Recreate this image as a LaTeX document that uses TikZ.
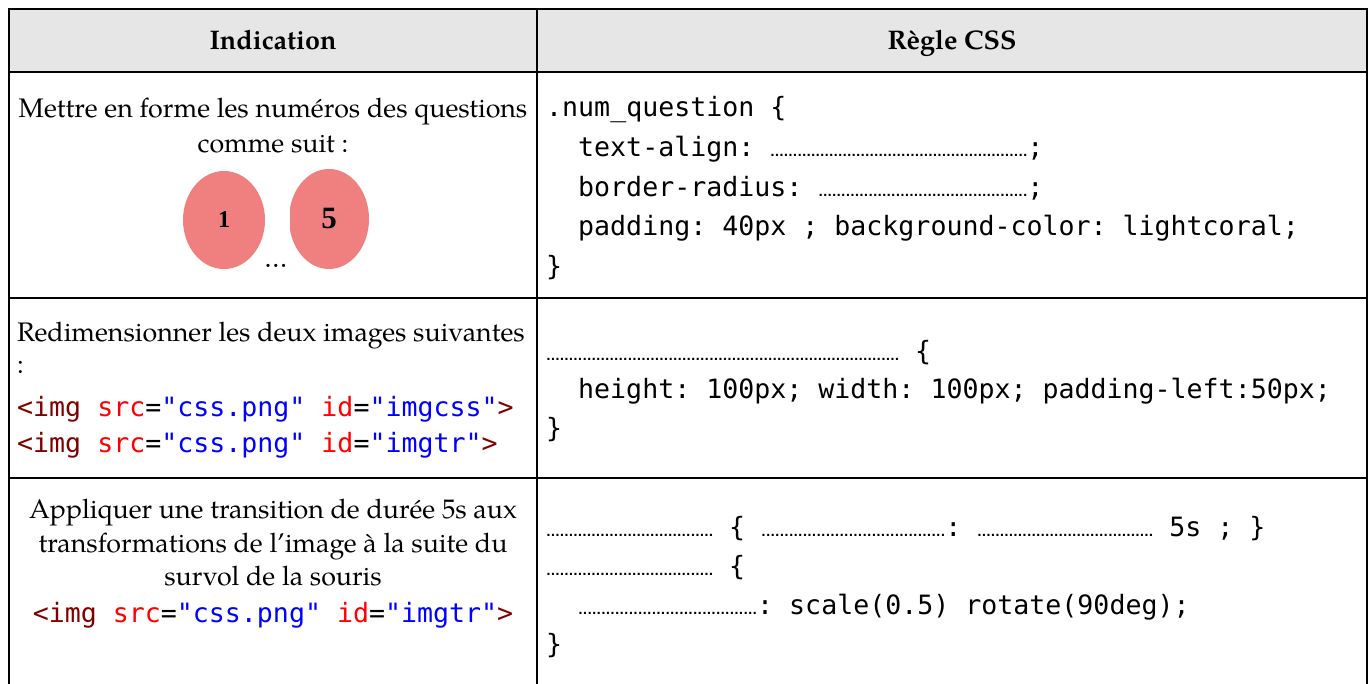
\documentclass[tikz,border=0pt]{standalone}
\usepackage{fontspec}
\setmainfont{TeX Gyre Pagella}
\setmonofont{DejaVu Sans Mono}
\newfontfamily\digitfont{Liberation Serif}
\newfontfamily\dotfont{DejaVu Sans}
\usetikzlibrary{shapes.geometric}
\definecolor{hgray}{RGB}{230,230,230}
\definecolor{lcoral}{RGB}{240,128,128}
\definecolor{dred}{RGB}{128,0,0}
\definecolor{cred}{RGB}{255,0,0}
\definecolor{cblue}{RGB}{0,0,255}
\newcommand\dotrun[1]{\hbox to #1{\xleaders\hbox to 4.5pt{\hss{\dotfont\bfseries\fontsize{11.5}{11.5}\selectfont.}\hss}\hfil}}
\newcommand\imgtag[1]{\textcolor{dred}{<img}~\textcolor{cred}{src}=\textcolor{cblue}{"css.png"}~\textcolor{cred}{id}=\textcolor{cblue}{"#1"}\textcolor{dred}{>}}
\tikzset{
  tline/.style={line width=2pt, black},
  serif/.style={inner sep=0pt, font=\fontsize{26.8}{30}\selectfont},
  head/.style={inner sep=0pt, font=\fontsize{26.9}{30}\selectfont\bfseries},
  code/.style={inner sep=0pt, font=\ttfamily\fontsize{26.6}{30}\selectfont},
  qbubble/.style={ellipse, fill=lcoral, inner sep=0pt, font=\digitfont\bfseries},
}
\begin{document}
\begin{tikzpicture}[x=1pt,y=-1pt]
\useasboundingbox (0,0) rectangle (1372,684);
% header background
\fill[hgray] (9,9) rectangle (1367,72);
% grid
\draw[tline] (9,684) -- (9,9) -- (1367,9) -- (1367,684);
\draw[tline] (9,72) -- (1367,72);
\draw[tline] (9,298) -- (1367,298);
\draw[tline] (9,478) -- (1367,478);
\draw[tline] (537,9) -- (537,684);
% header
\node[head, anchor=base] (h1) at (273,50) {Indication};
\node[head, anchor=base] (h2) at (952,50) {Règle CSS};
% row 1 left
\node[serif, anchor=base] (r1a) at (273,118) {Mettre en forme les numéros des questions};
\node[serif, anchor=base] (r1b) at (273,153) {comme suit :};
\node[qbubble, minimum width=82pt, minimum height=98pt, font=\digitfont\bfseries\fontsize{24}{24}\selectfont] (q1) at (224,220) {1};
\begin{scope}
  \clip (290,160) rectangle (380,280);
  \node[qbubble, minimum width=80pt, minimum height=100pt, font=\digitfont\bfseries\fontsize{31}{31}\selectfont] (q5) at (329,219) {5};
\end{scope}
\node[serif, anchor=base] (dots1) at (276,268) {…};
% row 1 right
\node[code, anchor=base west] (c11) at (546,117) {.num\_question~\{};
\node[code, anchor=base west] (c12) at (578,157) {text-align:~\dotrun{257pt};};
\node[code, anchor=base west] (c13) at (578,197) {border-radius:~\dotrun{209pt};};
\node[code, anchor=base west] (c14) at (578,236) {padding:~40px~;~background-color:~lightcoral;};
\node[code, anchor=base west] (c15) at (546,276) {\}};
% row 2 left
\node[serif, anchor=base west] (r2a) at (17,341) {Redimensionner les deux images suivantes};
\node[serif, anchor=base west] (r2b) at (17,373) {:};
\node[code, anchor=base west] (r2c) at (17,416) {\imgtag{imgcss}};
\node[code, anchor=base west] (r2d) at (17,452) {\imgtag{imgtr}};
% row 2 right
\node[code, anchor=base west] (c21) at (546,360) {\dotrun{353pt}~\{};
\node[code, anchor=base west] (c22) at (578,398) {height:~100px;~width:~100px;~padding-left:50px;};
\node[code, anchor=base west] (c23) at (546,437) {\}};
% row 3 left
\node[serif, anchor=base] (r3a) at (273,518) {Appliquer une transition de durée 5s aux};
\node[serif, anchor=base] (r3b) at (273,552) {transformations de l’image à la suite du};
\node[serif, anchor=base] (r3c) at (273,585) {survol de la souris};
\node[code, anchor=base] (r3d) at (273,622) {\imgtag{imgtr}};
% row 3 right
\node[code, anchor=base west] (c31) at (546,536) {\dotrun{167pt}~\{~\dotrun{184pt}:~\dotrun{176pt}~5s~;~\}};
\node[code, anchor=base west] (c32) at (546,575) {\dotrun{167pt}~\{};
\node[code, anchor=base west] (c33) at (578,614) {\dotrun{179pt}:~scale(0.5)~rotate(90deg);};
\node[code, anchor=base west] (c34) at (546,653) {\}};
\end{tikzpicture}
\end{document}
